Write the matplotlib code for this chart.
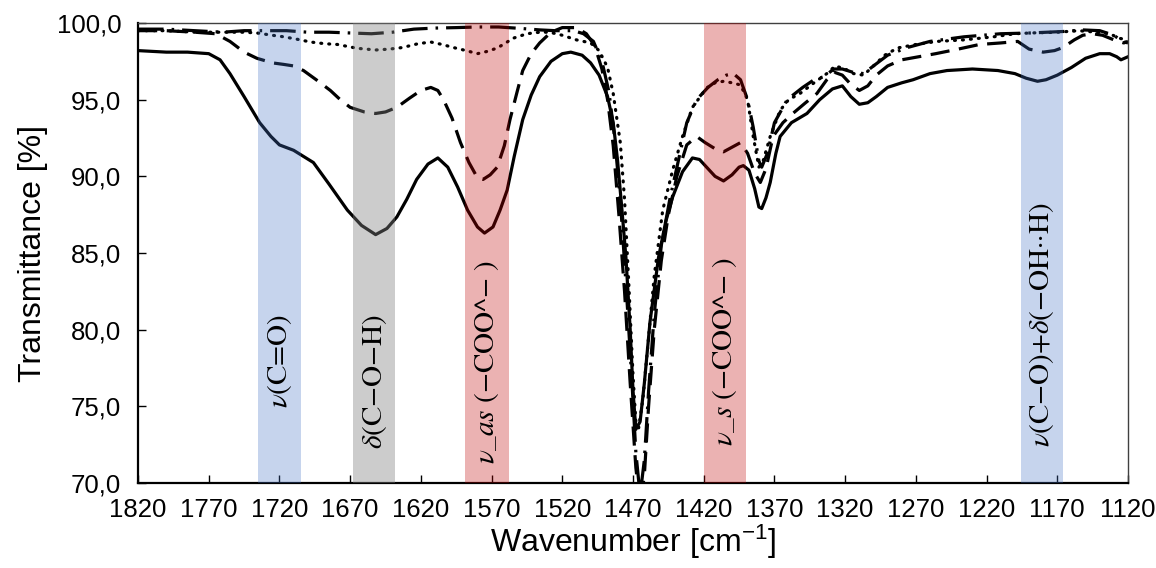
import numpy as np
import matplotlib
matplotlib.use('Agg')
import matplotlib.pyplot as plt
from matplotlib.ticker import FuncFormatter, MultipleLocator, FixedLocator

plt.rcParams['font.family'] = ['Liberation Sans', 'DejaVu Sans']
plt.rcParams['mathtext.fontset'] = 'custom'
plt.rcParams['mathtext.rm'] = 'Liberation Sans'
plt.rcParams['mathtext.it'] = 'Liberation Sans:italic'

# spectra (wavenumber, transmittance %)
solid_x = [1820, 1800, 1785, 1770, 1762, 1755, 1745, 1734, 1726, 1720, 1710, 1703, 1696, 1685, 1672, 1662,
           1652, 1644, 1637, 1630, 1623, 1615, 1608, 1601, 1594, 1587, 1580, 1575, 1569, 1564, 1559, 1554,
           1548, 1542, 1536, 1528, 1520, 1514, 1506, 1500, 1494, 1488, 1484, 1481, 1478, 1475, 1472, 1470,
           1468, 1465, 1462, 1458, 1452, 1447, 1442, 1435, 1428, 1423, 1418, 1412, 1406, 1400, 1395, 1392,
           1388, 1384, 1381, 1379, 1376, 1373, 1369, 1366, 1358, 1347, 1338, 1329, 1322, 1316, 1310, 1304,
           1298, 1290, 1280, 1272, 1260, 1248, 1230, 1212, 1200, 1192, 1184, 1178, 1170, 1160, 1150, 1140,
           1133, 1128, 1125, 1120]
solid_y = [98.2, 98.1, 98.1, 98.0, 97.6, 96.7, 95.2, 93.5, 92.6, 92.05, 91.7, 91.3, 90.9, 89.5, 87.8, 86.8,
           86.2, 86.6, 87.35, 88.5, 89.8, 90.8, 91.2, 90.6, 89.3, 87.8, 86.7, 86.3, 86.7, 87.8, 89.1, 91.3,
           93.7, 95.3, 96.5, 97.5, 98.0, 98.1, 97.9, 97.4, 96.6, 95.2, 93.5, 91.1, 88.0, 84.7, 80.0, 76.0,
           73.5, 74.0, 76.5, 80.5, 84.7, 87.0, 88.65, 90.3, 91.2, 91.1, 90.6, 90.0, 89.7, 90.1, 90.6, 90.7,
           90.4, 89.2, 88.0, 87.9, 88.6, 89.6, 91.5, 92.6, 93.5, 94.1, 95.0, 95.7, 95.9, 95.2, 94.7, 94.8,
           95.2, 95.8, 96.1, 96.3, 96.7, 96.9, 97.0, 96.9, 96.7, 96.4, 96.2, 96.3, 96.6, 97.1, 97.7, 98.0,
           98.0, 97.8, 97.6, 97.8]

dashed_x = [1820, 1800, 1780, 1765, 1755, 1745, 1736, 1725, 1717, 1710, 1703, 1694, 1684, 1677, 1670, 1660,
            1652, 1645, 1637, 1628, 1620, 1613, 1608, 1604, 1598, 1592, 1586, 1580, 1576, 1571, 1566, 1561,
            1557, 1552, 1548, 1542, 1536, 1528, 1520, 1510, 1503, 1497, 1492, 1488, 1484, 1480, 1476, 1472,
            1468, 1465, 1462, 1459, 1455, 1450, 1445, 1439, 1432, 1425, 1419, 1412, 1406, 1400, 1394, 1389,
            1384, 1380, 1376, 1371, 1364, 1357, 1348, 1340, 1333, 1328, 1322, 1316, 1310, 1304, 1298, 1290,
            1280, 1268, 1256, 1240, 1225, 1210, 1198, 1190, 1180, 1172, 1166, 1158, 1152, 1145, 1138, 1130,
            1123, 1120]
dashed_y = [99.5, 99.5, 99.4, 99.3, 98.8, 98.1, 97.7, 97.4, 97.3, 97.2, 96.9, 96.3, 95.6, 95.0, 94.5, 94.2,
            94.1, 94.2, 94.5, 95.1, 95.6, 95.8, 95.6, 95.0, 93.8, 92.2, 90.9, 89.9, 89.8, 90.1, 90.6, 92.0,
            93.7, 95.5, 96.9, 98.0, 98.7, 99.4, 99.7, 99.7, 99.3, 98.5, 97.0, 95.0, 92.0, 87.5, 82.5, 76.5,
            71.0, 68.5, 70.5, 75.0, 80.0, 84.5, 87.5, 90.0, 92.05, 92.6, 92.2, 91.8, 91.6, 91.9, 92.2, 91.5,
            90.2, 89.6, 90.5, 92.6, 93.5, 94.1, 94.8, 95.4, 96.3, 96.8, 96.6, 96.0, 95.6, 95.9, 96.6, 97.2,
            97.6, 97.8, 98.0, 98.3, 98.6, 98.7, 98.8, 98.3, 98.1, 98.2, 98.4, 98.9, 99.2, 99.3, 99.2, 98.9,
            98.7, 98.8]

dotted_x = [1820, 1800, 1780, 1760, 1745, 1736, 1725, 1717, 1708, 1698, 1688, 1679, 1665, 1652, 1642, 1633,
            1622, 1613, 1605, 1597, 1588, 1580, 1573, 1566, 1560, 1555, 1545, 1536, 1529, 1520, 1510, 1500,
            1494, 1488, 1484, 1479, 1476, 1473, 1470, 1468, 1466, 1463, 1459, 1455, 1449, 1442, 1435, 1428,
            1418, 1412, 1406, 1400, 1394, 1389, 1385, 1381, 1378, 1373, 1366, 1360, 1352, 1342, 1333, 1327,
            1320, 1314, 1307, 1300, 1292, 1283, 1270, 1255, 1236, 1215, 1200, 1189, 1170, 1155, 1142, 1133,
            1126, 1120]
dotted_y = [99.5, 99.5, 99.4, 99.4, 99.4, 99.35, 99.2, 99.1, 98.95, 98.76, 98.65, 98.6, 98.35, 98.24, 98.3, 98.4,
            98.65, 98.76, 98.6, 98.4, 98.2, 98.0, 98.15, 98.37, 98.7, 99.0, 99.3, 99.4, 99.4, 99.2, 98.9, 98.7,
            98.2, 97.1, 95.4, 92.2, 88.5, 83.0, 77.0, 74.0, 73.6, 75.5, 79.5, 83.5, 87.8, 90.4, 92.6, 94.5,
            95.76, 96.1, 96.2, 96.1, 95.96, 95.0, 92.6, 90.6, 91.0, 92.6, 94.3, 95.0, 95.4, 96.1, 96.7, 97.2,
            97.0, 96.7, 96.6, 97.2, 97.9, 98.37, 98.6, 98.8, 98.9, 99.1, 99.3, 99.35, 99.4, 99.5, 99.4, 99.3,
            99.0, 98.9]

dashdot_x = [1820, 1800, 1780, 1760, 1745, 1730, 1715, 1700, 1685, 1670, 1655, 1640, 1625, 1610, 1595, 1580,
             1565, 1550, 1536, 1525, 1512, 1505, 1498, 1492, 1487, 1483, 1479, 1475, 1471, 1468, 1465, 1462,
             1459, 1455, 1450, 1444, 1438, 1432, 1425, 1417, 1410, 1404, 1399, 1394, 1389, 1385, 1381, 1379,
             1375, 1370, 1361, 1350, 1342, 1335, 1328, 1322, 1315, 1307, 1300, 1290, 1276, 1260, 1236, 1210,
             1189, 1165, 1152, 1140, 1130, 1124, 1120]
dashdot_y = [99.6, 99.6, 99.5, 99.4, 99.5, 99.5, 99.5, 99.4, 99.4, 99.35, 99.3, 99.4, 99.6, 99.67, 99.7, 99.74,
             99.74, 99.65, 99.55, 99.5, 99.5, 99.3, 98.8, 97.5, 95.5, 92.5, 88.5, 83.0, 77.0, 72.0, 69.2, 71.5,
             76.0, 81.0, 85.5, 88.5, 91.0, 93.5, 95.0, 95.8, 96.3, 96.6, 96.7, 96.3, 95.0, 93.2, 91.0, 90.6,
             91.5, 93.5, 95.0, 95.8, 96.3, 96.5, 97.0, 97.0, 96.8, 96.7, 97.2, 97.9, 98.4, 98.8, 99.1, 99.3,
             99.35, 99.45, 99.55, 99.5, 99.2, 98.8, 98.7]

# highlighted bands
band_lo = [1735, 1668, 1589, 1420, 1196]
band_hi = [1705, 1638, 1558, 1390, 1166]
band_colors = ['#4472C4', '#808080', '#C00000', '#C00000', '#4472C4']
band_alpha = [0.3, 0.4, 0.3, 0.3, 0.3]
band_labels = [r'$\nu$(C=O)', r'$\delta$(C−O−H)', r'$\nu\_as$ (−COO^− )', r'$\nu\_s$ (−COO^− )',
               r'$\nu$(C−O)+$\delta$(−OH··H)']
label_y = [77.95, 76.6, 77.9, 78.6, 80.3]

x_ticks = [1820, 1770, 1720, 1670, 1620, 1570, 1520, 1470, 1420, 1370, 1320, 1270, 1220, 1170, 1120]

fig = plt.figure(figsize=(11.56, 5.68), dpi=100)
ax = fig.add_axes([0.1194, 0.1496, 0.8564, 0.8099])

ax.plot(solid_x, solid_y, color='black', lw=2.3, linestyle='-', zorder=2)
ax.plot(dashed_x, dashed_y, color='black', lw=2.3, linestyle=(0, (6, 3)), zorder=2)
ax.plot(dotted_x, dotted_y, color='black', lw=2.3, linestyle=(0, (0.3, 2.2)),
        dash_capstyle='round', zorder=2)
ax.plot(dashdot_x, dashdot_y, color='black', lw=2.3, linestyle=(0, (8, 2.5, 0.8, 2.5)), zorder=2)

for lo, hi, c, a, lab, ly in zip(band_lo, band_hi, band_colors, band_alpha, band_labels, label_y):
    ax.axvspan(lo, hi, color=c, alpha=a, lw=0, zorder=3)
    ax.text((lo + hi) / 2, ly, lab, rotation=90, ha='center', va='center', fontsize=21,
            family='STIXGeneral', math_fontfamily='stix', zorder=4)

ax.set_xlim(1820, 1120)
ax.set_ylim(70, 100)
ax.xaxis.set_major_locator(FixedLocator(x_ticks))
ax.yaxis.set_major_locator(MultipleLocator(5))
ax.yaxis.set_major_formatter(FuncFormatter(lambda v, p: f'{v:.1f}'.replace('.', ',')))
ax.tick_params(direction='in', length=6, width=1, labelsize=18.5, colors='black')
ax.tick_params(axis='x', pad=11)
ax.tick_params(axis='y', pad=12)

for s in ['left', 'bottom']:
    ax.spines[s].set_linewidth(1.6)
for s in ['top', 'right']:
    ax.spines[s].set_linewidth(1.0)
    ax.spines[s].set_color('#404040')

ax.set_xlabel('Wavenumber [cm$^{-1}$]', fontsize=23, labelpad=0)
ax.set_ylabel('Transmittance [%]', fontsize=23, labelpad=6)

fig.savefig('out.png', dpi=100)
